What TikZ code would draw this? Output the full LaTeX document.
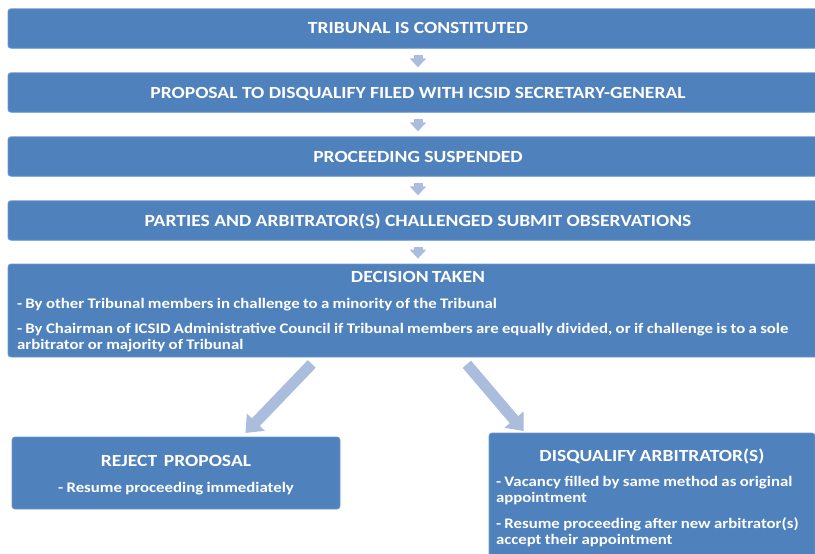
\documentclass[tikz,border=0pt]{standalone}
\usepackage{fontspec}
\setmainfont{Carlito}[FakeStretch=1.15]
\usetikzlibrary{arrows.meta}
\definecolor{boxblue}{RGB}{79,129,189}
\definecolor{boxedge}{RGB}{112,153,204}
\definecolor{arrowblue}{RGB}{170,189,220}
\newcommand{\headfont}{\fontsize{17}{20}\selectfont\bfseries}
\newcommand{\bodyfont}{\fontsize{14.6}{16}\selectfont\bfseries}

\begin{document}
\begin{tikzpicture}[x=1pt,y=-1pt,
  stagebox/.style={draw=boxedge, line width=.8pt, fill=boxblue, rounded corners=3pt, text=white, inner xsep=9pt, inner ysep=0pt},
  steparrow/.style={draw=arrowblue, line width=9pt, -{Triangle[length=9pt,width=16pt]}, shorten <=6pt, shorten >=5pt},
  bigarrow/.style={draw=arrowblue, line width=11pt, -{Triangle[length=15pt,width=24pt]}}]
\useasboundingbox (0,0) rectangle (815,554);
\clip (0,0) rectangle (815,554);
% steps down the middle
\foreach \name/\ypos/\txt in {tribunal/28.5/TRIBUNAL IS CONSTITUTED,
  proposal/92.5/PROPOSAL TO DISQUALIFY FILED WITH ICSID SECRETARY-GENERAL,
  suspended/156.5/PROCEEDING SUSPENDED,
  observations/220.5/PARTIES AND ARBITRATOR(S) CHALLENGED SUBMIT OBSERVATIONS} {
 \node[stagebox, minimum width=820pt, minimum height=39.5pt, text height=11pt, text depth=0pt, font=\headfont] (\name) at (418,\ypos) {\txt};
}
\node[stagebox, minimum width=820pt, minimum height=93pt, text width=802pt] (decision) at (418,310.5)
 {\centering\headfont DECISION TAKEN\par\vspace{9.5pt}
  \raggedright\bodyfont - By other Tribunal members in challenge to a minority of the Tribunal\par\vspace{9pt}
  - By Chairman of ICSID Administrative Council if Tribunal members are equally divided, or if challenge is to a sole\\
  arbitrator or majority of Tribunal\par\vspace{-2pt}};
% the two outcomes
\node[stagebox, minimum width=328pt, minimum height=72pt, text width=310pt] (reject) at (176,473)
 {\centering\headfont REJECT~~PROPOSAL\par\vspace{10pt}
  \bodyfont - Resume proceeding immediately\par\vspace{-4pt}};
\node[stagebox, minimum width=326pt, minimum height=128pt, text width=312pt, inner xsep=7pt] (disqualify) at (652,497)
 {\centering\headfont DISQUALIFY ARBITRATOR(S)\par\vspace{9pt}
  \raggedright\bodyfont - Vacancy filled by same method as original\\
  appointment\par\vspace{10pt}
  - Resume proceeding after new arbitrator(s)\\
  accept their appointment\par\vspace{-2pt}};
\foreach \a/\b in {tribunal/proposal, proposal/suspended, suspended/observations, observations/decision}
 \draw[steparrow] (\a.south) -- (\b.north);
\draw[bigarrow, shorten <=9pt, shorten >=5pt] ([xshift=-100pt]decision.south) -- ([xshift=66pt]reject.north);
\draw[bigarrow, shorten <=9pt, shorten >=2pt] ([xshift=43pt]decision.south) -- ([xshift=-127pt]disqualify.north);
\end{tikzpicture}
\end{document}
